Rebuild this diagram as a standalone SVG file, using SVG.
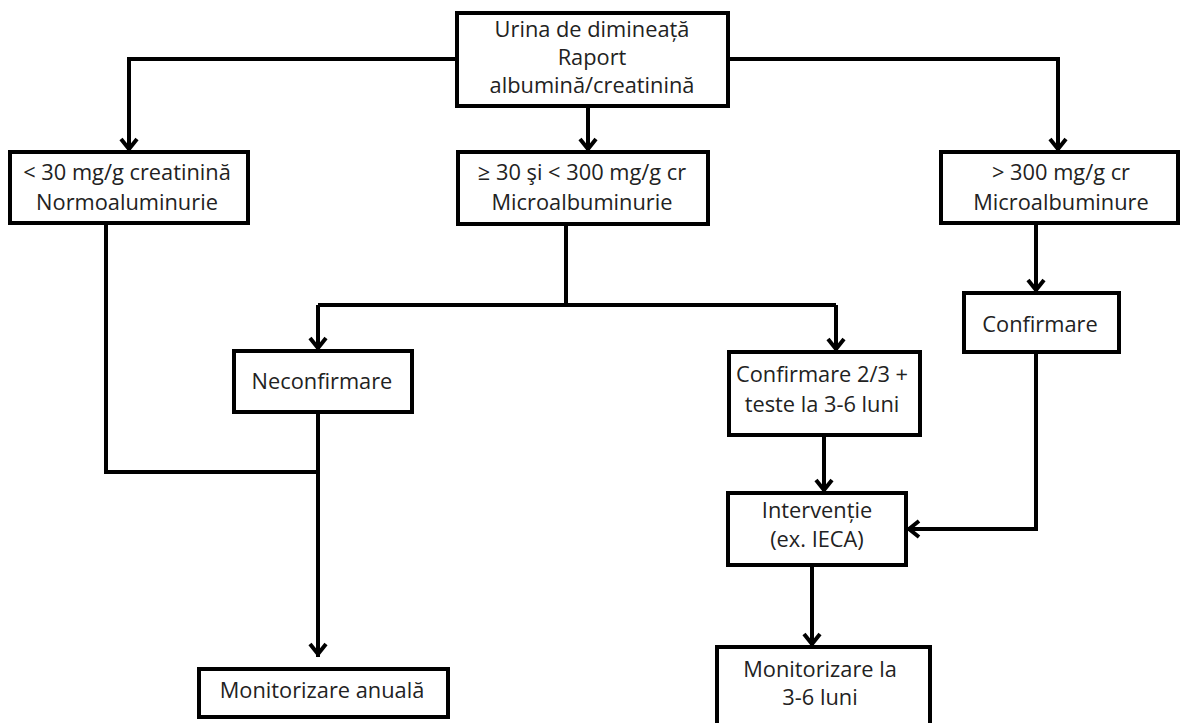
<svg xmlns="http://www.w3.org/2000/svg" width="1182" height="723" viewBox="0 0 1182 723">
<style>
.box{fill:#fff;stroke:#000;stroke-width:4}
.t{font-family:"Open Sans","Noto Sans","Liberation Sans",sans-serif;font-size:21.8px;fill:#222;text-anchor:middle}
.c{fill:none;stroke:#000;stroke-width:4}
</style>
<defs>
<marker id="arr" markerUnits="userSpaceOnUse" markerWidth="30" markerHeight="30" viewBox="-15 -15 30 30" refX="0" refY="0" orient="auto" overflow="visible">
<path d="M-13,-8 L-3,0 L-13,8" fill="none" stroke="#000" stroke-width="4"/>
</marker>
</defs>
<rect width="1182" height="723" fill="#fff"/>
<g id="connectors">
<path class="c" d="M457,59 H129 V152" marker-end="url(#arr)"/>
<path class="c" d="M728,59 H1058 V152" marker-end="url(#arr)"/>
<path class="c" d="M588,106 V152" marker-end="url(#arr)"/>
<path class="c" d="M566,224 V305"/>
<path class="c" d="M318,305 H836"/>
<path class="c" d="M318,305 V351" marker-end="url(#arr)"/>
<path class="c" d="M836,305 V352" marker-end="url(#arr)"/>
<path class="c" d="M106,223 V472 H318"/>
<path class="c" d="M318,412 V657" marker-end="url(#arr)"/>
<path class="c" d="M1036,223 V293" marker-end="url(#arr)"/>
<path class="c" d="M1036,352 V529 H906" marker-end="url(#arr)"/>
<path class="c" d="M824,435 V493" marker-end="url(#arr)"/>
<path class="c" d="M812,565 V647" marker-end="url(#arr)"/>
</g>
<g id="n-start">
<rect class="box" x="457" y="13" width="271" height="93"/>
<text class="t" x="592" y="37">Urina de dimineață</text>
<text class="t" x="592" y="65">Raport</text>
<text class="t" x="592" y="93">albumină/creatinină</text>
</g>
<g id="n-normo">
<rect class="box" x="10" y="152" width="238" height="71"/>
<text class="t" x="127" y="180">&lt; 30 mg/g creatinină</text>
<text class="t" x="127" y="210">Normoaluminurie</text>
</g>
<g id="n-micro">
<rect class="box" x="458" y="152" width="250" height="72"/>
<text class="t" x="582" y="180">≥ 30 şi &lt; 300 mg/g cr</text>
<text class="t" x="582" y="210">Microalbuminurie</text>
</g>
<g id="n-macro">
<rect class="box" x="941" y="152" width="237" height="71"/>
<text class="t" x="1061" y="180">&gt; 300 mg/g cr</text>
<text class="t" x="1061" y="210">Microalbuminure</text>
</g>
<g id="n-neconf">
<rect class="box" x="234" y="351" width="178" height="61"/>
<text class="t" x="322" y="389">Neconfirmare</text>
</g>
<g id="n-conf23">
<rect class="box" x="729" y="352" width="191" height="83"/>
<text class="t" x="822" y="382">Confirmare 2/3 +</text>
<text class="t" x="822" y="412">teste la 3-6 luni</text>
</g>
<g id="n-conf">
<rect class="box" x="964" y="293" width="155" height="59"/>
<text class="t" x="1040" y="332">Confirmare</text>
</g>
<g id="n-interv">
<rect class="box" x="728" y="493" width="178" height="72"/>
<text class="t" x="817" y="518">Intervenție</text>
<text class="t" x="817" y="547">(ex. IECA)</text>
</g>
<g id="n-anual">
<rect class="box" x="199" y="669" width="249" height="48"/>
<text class="t" x="322" y="698">Monitorizare anuală</text>
</g>
<g id="n-monit">
<rect class="box" x="717" y="647" width="213" height="90"/>
<text class="t" x="820" y="677">Monitorizare la</text>
<text class="t" x="820" y="705">3-6 luni</text>
</g>
</svg>
